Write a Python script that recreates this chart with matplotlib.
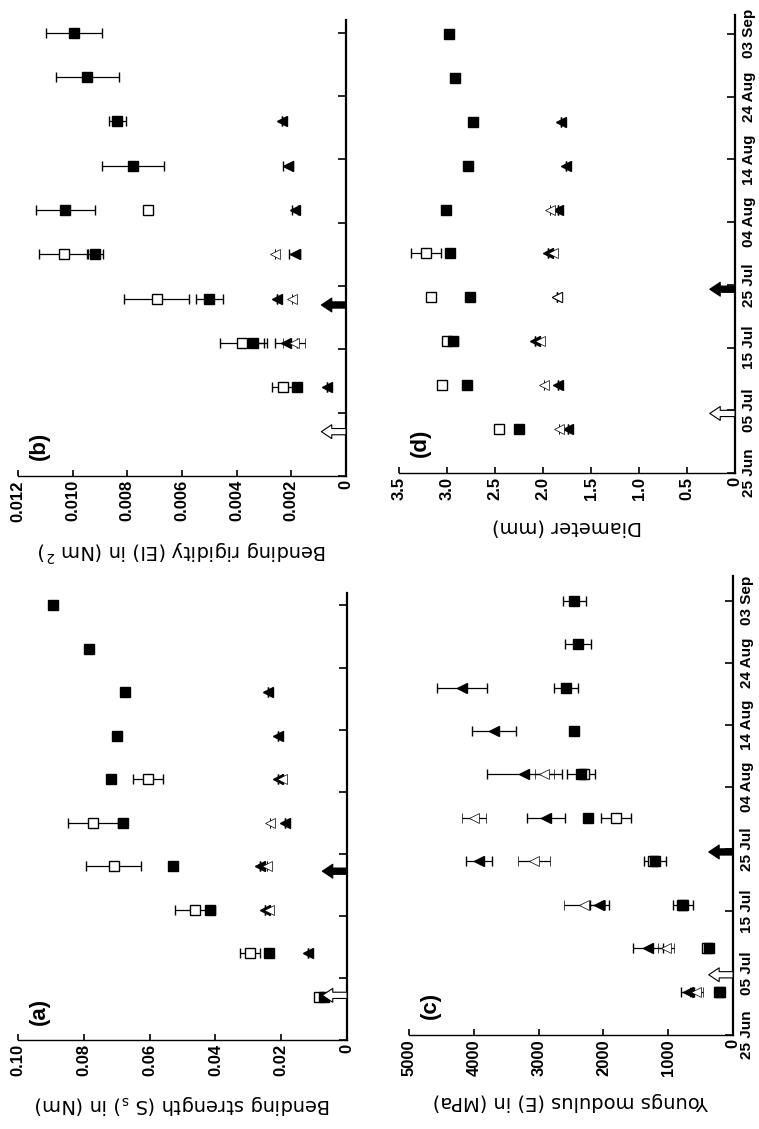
import numpy as np
import matplotlib.pyplot as plt

plt.rcParams['font.family'] = ['Liberation Sans', 'DejaVu Sans']
plt.rcParams['font.weight'] = 'bold'
plt.rcParams['mathtext.fontset'] = 'custom'
plt.rcParams['mathtext.rm'] = 'DejaVu Sans:bold'
plt.rcParams['mathtext.it'] = 'DejaVu Sans:bold'
plt.rcParams['mathtext.bf'] = 'DejaVu Sans:bold'

nan = np.nan

# sampling days, counted from 25 Jun
days = [7, 14, 21, 28, 35, 42, 49, 56, 63, 70]
tick_days = [0, 10, 20, 30, 40, 50, 60, 70]
tick_dates = ['25 Jun', '05 Jul', '15 Jul', '25 Jul', '04 Aug', '14 Aug', '24 Aug', '03 Sep']

# (a) bending strength (Nm)
strength_fsq = [0.0071, 0.0237, 0.0416, 0.053, 0.068, 0.0718, 0.070, 0.0675, 0.0784, 0.0893]
strength_fsq_err = [0, 0, 0, 0, 0, 0, 0, 0, 0, 0]
strength_osq = [0.0085, 0.0295, 0.0462, 0.0709, 0.0772, 0.0604, nan, nan, nan, nan]
strength_osq_err = [0, 0.003, 0.006, 0.0083, 0.0076, 0.0045, 0, 0, 0, 0]
strength_ftri = [nan, 0.0119, 0.0249, 0.0264, 0.0188, 0.0210, 0.0210, 0.0240, nan, nan]
strength_ftri_err = [0, 0, 0, 0, 0, 0, 0, 0, 0, 0]
strength_otri = [nan, nan, 0.0236, 0.0243, 0.0234, 0.0197, nan, nan, nan, nan]
strength_otri_err = [0, 0, 0, 0, 0, 0, 0, 0, 0, 0]

# (b) bending rigidity (Nm^2)
rigid_fsq = [nan, 0.0018, 0.0034, 0.0050, 0.00918, 0.01027, 0.0078, 0.00836, 0.00946, 0.00995]
rigid_fsq_err = [0, 0.0001, 0.0005, 0.0005, 0.0003, 0.00107, 0.00114, 0.0003, 0.00116, 0.00101]
rigid_osq = [nan, 0.0023, 0.0038, 0.00693, 0.01033, 0.00723, nan, nan, nan, nan]
rigid_osq_err = [0, 0.0004, 0.0008, 0.0012, 0.0009, 0, 0, 0, 0, 0]
rigid_ftri = [nan, 0.0007, 0.0022, 0.00252, 0.00187, 0.00187, 0.00212, 0.00234, nan, nan]
rigid_ftri_err = [0, 0, 0.0004, 0, 0.0002, 0.0001, 0.0002, 0, 0, 0]
rigid_otri = [nan, nan, 0.0019, 0.00198, 0.0026, nan, nan, nan, nan, nan]
rigid_otri_err = [0, 0, 0.0004, 0, 0, 0, 0, 0, 0, 0]

# (c) Young's modulus (MPa)
young_fsq = [206, 376, 773, 1211, 2242, 2345, 2448, 2577, 2397, 2448]
young_fsq_err = [0, 0, 150, 170, 0, 220, 60, 190, 200, 180]
young_osq = [220, 400, 790, 1230, 1804, 2300, nan, nan, nan, nan]
young_osq_err = [0, 0, 0, 0, 230, 0, 0, 0, 0, 0]
young_ftri = [696, 1314, 2062, 3918, 2887, 3222, 3686, 4186, nan, nan]
young_ftri_err = [100, 230, 150, 200, 300, 580, 340, 390, 0, 0]
young_otri = [567, 1031, 2294, 3067, 3995, 2912, nan, nan, nan, nan]
young_otri_err = [100, 120, 320, 250, 180, 150, 0, 0, 0, 0]

# (d) diameter (mm)
diam_fsq = [2.247, 2.787, 2.934, 2.76, 2.969, 3.014, 2.78, 2.725, 2.92, 2.98]
diam_fsq_err = [0, 0, 0.05, 0, 0, 0, 0, 0, 0, 0]
diam_osq = [2.456, 3.05, 3.0, 3.17, 3.22, nan, nan, nan, nan, nan]
diam_osq_err = [0, 0, 0, 0, 0.16, 0, 0, 0, 0, 0]
diam_ftri = [1.74, 1.84, 2.08, 1.85, 1.95, 1.84, 1.76, 1.81, nan, nan]
diam_ftri_err = [0, 0, 0, 0, 0, 0, 0, 0, 0, 0]
diam_otri = [1.83, 1.99, 2.03, 1.85, 1.90, 1.93, nan, nan, nan, nan]
diam_otri_err = [0, 0, 0, 0, 0, 0, 0, 0, 0, 0]

# arrow days per panel: (open arrow, filled arrow)
arrows_a = [7.2, 27.2]
arrows_b = [7.0, 27.0]
arrows_c = [9.7, 29.5]
arrows_d = [9.5, 29.3]


def draw_panel(ax, series, xmax, xticks, xticklabels, xlabel, letter, ymax, arrows, show_dates):
    ax.set_xlim(xmax, 0)
    ax.set_ylim(0, ymax)

    for vals, errs, marker, face, ms, mew in series:
        ax.errorbar(vals, days, xerr=errs, fmt=marker, mfc=face, mec='k', ms=ms, mew=mew,
                    ecolor='k', elinewidth=0.9, capsize=3.5, capthick=0.9)

    # open and filled arrows pointing away from the date axis
    for day, face in zip(arrows, ['white', 'black']):
        ax.annotate('', xy=(0.925, day), xycoords=ax.get_yaxis_transform(),
                    xytext=(1.0, day), textcoords=ax.get_yaxis_transform(),
                    arrowprops=dict(arrowstyle='simple,head_width=1.0,head_length=0.75,tail_width=0.45',
                                    fc=face, ec='k', lw=0.8, shrinkA=0, shrinkB=0,
                                    mutation_scale=10),
                    annotation_clip=False, zorder=5)

    ax.spines['top'].set_visible(False)
    ax.spines['left'].set_visible(False)
    ax.spines['bottom'].set_linewidth(1.0)
    ax.spines['right'].set_linewidth(1.6)
    ax.xaxis.set_ticks_position('bottom')
    ax.yaxis.set_ticks_position('right')
    ax.tick_params(axis='x', direction='in', length=4, width=1.2, labelsize=12, labelrotation=90, pad=3)
    ax.tick_params(axis='y', direction='in', length=6, width=1.2, labelsize=11, labelrotation=90, pad=5)

    ax.set_xticks(xticks)
    ax.set_xticklabels(xticklabels)
    ax.set_yticks(tick_days)
    if show_dates:
        ax.set_yticklabels(tick_dates)
        for lab in ax.get_yticklabels():
            lab.set_va('center')
    else:
        ax.set_yticklabels([])

    ax.set_xlabel(xlabel, rotation=180, fontsize=14, family='DejaVu Sans', labelpad=12)
    ax.text(0.065, 0.065, letter, transform=ax.transAxes, rotation=90,
            fontsize=16, ha='center', va='center')


def four_series(fsq, fsq_e, osq, osq_e, ftri, ftri_e, otri, otri_e):
    return [
        (osq, osq_e, 's', 'white', 7.5, 1.0),
        (fsq, fsq_e, 's', 'black', 7.5, 1.0),
        (ftri, ftri_e, '<', 'black', 6.5, 1.0),
        (otri, otri_e, '<', 'white', 7.0, 0.5),
    ]


fig = plt.figure(figsize=(7.59, 11.29), dpi=100)
ax_b = fig.add_axes([0.0237, 0.5784, 0.4321, 0.4039])
ax_a = fig.add_axes([0.0237, 0.0788, 0.4335, 0.3959])
ax_d = fig.add_axes([0.5257, 0.5810, 0.4427, 0.4057])
ax_c = fig.add_axes([0.5389, 0.0833, 0.4269, 0.4066])

draw_panel(ax_a,
           four_series(strength_fsq, strength_fsq_err, strength_osq, strength_osq_err,
                       strength_ftri, strength_ftri_err, strength_otri, strength_otri_err),
           0.10, [0, 0.02, 0.04, 0.06, 0.08, 0.10], ['0', '0.02', '0.04', '0.06', '0.08', '0.10'],
           'Bending strength (S $_\\mathregular{s}$) in (Nm)', '(a)', 72, arrows_a, False)

draw_panel(ax_b,
           four_series(rigid_fsq, rigid_fsq_err, rigid_osq, rigid_osq_err,
                       rigid_ftri, rigid_ftri_err, rigid_otri, rigid_otri_err),
           0.012, [0, 0.002, 0.004, 0.006, 0.008, 0.010, 0.012],
           ['0', '0.002', '0.004', '0.006', '0.008', '0.010', '0.012'],
           'Bending rigidity (EI) in (Nm $^\\mathregular{2}$)', '(b)', 72, arrows_b, False)

draw_panel(ax_c,
           four_series(young_fsq, young_fsq_err, young_osq, young_osq_err,
                       young_ftri, young_ftri_err, young_otri, young_otri_err),
           5000, [0, 1000, 2000, 3000, 4000, 5000], ['0', '1000', '2000', '3000', '4000', '5000'],
           'Youngs modulus (E) in (MPa)', '(c)', 74, arrows_c, True)

draw_panel(ax_d,
           four_series(diam_fsq, diam_fsq_err, diam_osq, diam_osq_err,
                       diam_ftri, diam_ftri_err, diam_otri, diam_otri_err),
           3.5, [0, 0.5, 1.0, 1.5, 2.0, 2.5, 3.0, 3.5],
           ['0', '0.5', '1.0', '1.5', '2.0', '2.5', '3.0', '3.5'],
           'Diameter (mm)', '(d)', 73, arrows_d, True)

fig.savefig('out.png', dpi=100)
